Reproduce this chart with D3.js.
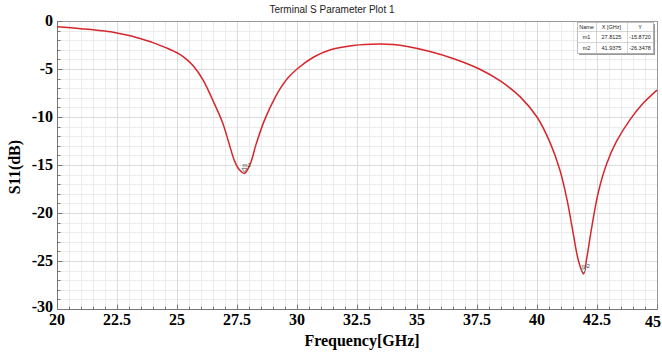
<!DOCTYPE html>
<html>
<head>
<meta charset="utf-8">
<script src="https://cdn.jsdelivr.net/npm/d3@7"></script>
<style>
  body { margin: 0; background: #fff; }
  svg { display: block; }
</style>
</head>
<body>
<div id="chart"></div>
<script>
// S11 curve
const freq = [20, 21, 22, 22.6, 23, 23.5, 24, 24.5, 25.1, 25.4, 25.7, 26.1, 26.5, 26.9, 27.15, 27.4, 27.6, 27.8125,
  28.05, 28.3, 28.65, 29.1, 29.3, 29.6, 30, 30.7, 31.4, 32.35, 33.4, 34.0, 34.6, 35.5, 36.5, 37.6, 38.5, 39.3,
  40, 40.55, 40.95, 41.25, 41.5, 41.72, 41.9375, 42.08, 42.28, 42.55, 42.9, 43.3, 43.9, 44.45, 45];
const s11 = [-0.6, -0.8, -1.05, -1.3, -1.5, -1.85, -2.25, -2.75, -3.45, -4.0, -4.75, -6.2, -8.3, -10.6, -12.6, -14.6, -15.5, -15.872,
  -14.9, -12.8, -10.3, -7.9, -7.05, -6.0, -5.0, -3.75, -3.0, -2.55, -2.4, -2.45, -2.65, -3.15, -3.9, -5.0, -6.3, -7.9,
  -10.0, -12.7, -15.5, -18.6, -22.0, -24.9, -26.3478, -24.6, -21.5, -17.9, -14.9, -12.6, -10.2, -8.5, -7.2];

const markers = [
  { name: "m1", x: 27.8125, y: -15.8720 },
  { name: "m2", x: 41.9375, y: -26.3478 }
];

const xTicks = [20, 22.5, 25, 27.5, 30, 32.5, 35, 37.5, 40, 42.5, 45];
const yTicks = [0, -5, -10, -15, -20, -25, -30];

const width = 662, height = 356;
const marginTop = 21, marginRight = 5, marginBottom = 47, marginLeft = 57;

const x = d3.scaleLinear().domain([20, 45]).range([marginLeft, width - marginRight]);
const y = d3.scaleLinear().domain([-30, 0]).range([height - marginBottom, marginTop]);

const svg = d3.select("#chart").append("svg")
  .attr("width", width)
  .attr("height", height)
  .attr("viewBox", [0, 0, width, height]);

// minor grid
svg.append("g")
  .attr("stroke", "#ececec")
  .attr("stroke-width", 1)
  .call(g => g.selectAll("line.v").data(d3.range(20, 45.01, 0.5)).join("line")
    .attr("x1", d => Math.round(x(d)) + 0.5).attr("x2", d => Math.round(x(d)) + 0.5)
    .attr("y1", y(0)).attr("y2", y(-30)))
  .call(g => g.selectAll("line.h").data(d3.range(-30, 0.01, 1)).join("line")
    .attr("y1", d => Math.round(y(d)) + 0.5).attr("y2", d => Math.round(y(d)) + 0.5)
    .attr("x1", x(20)).attr("x2", x(45)));

// major grid
svg.append("g")
  .attr("stroke", "#dcdcdc")
  .call(g => g.selectAll("line.v").data(xTicks).join("line")
    .attr("x1", d => Math.round(x(d)) + 0.5).attr("x2", d => Math.round(x(d)) + 0.5)
    .attr("y1", y(0)).attr("y2", y(-30)))
  .call(g => g.selectAll("line.h").data(yTicks).join("line")
    .attr("y1", d => Math.round(y(d)) + 0.5).attr("y2", d => Math.round(y(d)) + 0.5)
    .attr("x1", x(20)).attr("x2", x(45)));

// frame
svg.append("rect")
  .attr("x", x(20) + 0.5).attr("y", y(0) + 0.5)
  .attr("width", x(45) - x(20)).attr("height", y(-30) - y(0))
  .attr("fill", "none").attr("stroke", "#9a9a9a");

// inner ticks
const bottomY = Math.round(y(-30)) + 0.5;
svg.append("g").attr("stroke", "#777")
  .selectAll("line").data(d3.range(20, 45.01, 0.5)).join("line")
  .attr("x1", d => Math.round(x(d)) + 0.5).attr("x2", d => Math.round(x(d)) + 0.5)
  .attr("y1", bottomY).attr("y2", d => bottomY - (xTicks.includes(d) ? 5 : 3));
const leftX = Math.round(x(20)) + 0.5;
svg.append("g").attr("stroke", "#777")
  .selectAll("line").data(d3.range(-30, 0.01, 1)).join("line")
  .attr("y1", d => Math.round(y(d)) + 0.5).attr("y2", d => Math.round(y(d)) + 0.5)
  .attr("x1", leftX).attr("x2", d => leftX + (yTicks.includes(d) ? 5 : 3));
svg.append("line").attr("stroke", "#777")
  .attr("x1", leftX).attr("x2", leftX).attr("y1", y(0)).attr("y2", y(-30));
svg.append("line").attr("stroke", "#777")
  .attr("x1", x(20)).attr("x2", x(45)).attr("y1", bottomY).attr("y2", bottomY);

// tick labels
svg.append("g")
  .attr("font-family", "'Liberation Serif', 'Times New Roman', serif")
  .attr("font-weight", "bold").attr("font-size", 16)
  .selectAll("text").data(xTicks).join("text")
  .attr("x", d => x(d)).attr("y", d => d === 45 ? 327 : 325)
  .attr("text-anchor", d => d === 45 ? "end" : "middle")
  .attr("dx", d => d === 45 ? 4 : 0)
  .text(d => d);
svg.append("g")
  .attr("font-family", "'Liberation Serif', 'Times New Roman', serif")
  .attr("font-weight", "bold").attr("font-size", 16)
  .selectAll("text").data(yTicks).join("text")
  .attr("x", 53).attr("y", d => y(d) + (d === -30 ? 3 : 5))
  .attr("text-anchor", "end")
  .text(d => d);

// axis titles
svg.append("text")
  .attr("x", 362).attr("y", 346)
  .attr("text-anchor", "middle")
  .attr("font-family", "'Liberation Serif', 'Times New Roman', serif")
  .attr("font-weight", "bold").attr("font-size", 16)
  .text("Frequency[GHz]");
svg.append("text")
  .attr("transform", "translate(20,167) rotate(-90)")
  .attr("text-anchor", "middle")
  .attr("font-family", "'Liberation Serif', 'Times New Roman', serif")
  .attr("font-weight", "bold").attr("font-size", 16)
  .text("S11(dB)");

// title
svg.append("text")
  .attr("x", 332).attr("y", 13)
  .attr("text-anchor", "middle")
  .attr("font-family", "'Liberation Sans', Arial, sans-serif")
  .attr("font-size", 10).attr("fill", "#222")
  .text("Terminal S Parameter Plot 1");

// curve
const line = d3.line()
  .x((d, i) => x(freq[i]))
  .y(d => y(d))
  .curve(d3.curveCatmullRom.alpha(0.5));
svg.append("path")
  .datum(s11)
  .attr("fill", "none")
  .attr("stroke", "#d7262b")
  .attr("stroke-width", 1.5)
  .attr("d", line);

// markers
const mk = svg.append("g").selectAll("g").data(markers).join("g")
  .attr("transform", d => `translate(${x(d.x)},${y(d.y)})`);
mk.append("path")
  .attr("d", "M-2.5,-5 L2.5,-5 L0,-1 Z")
  .attr("fill", "#fff").attr("stroke", "#555").attr("stroke-width", 0.7);
mk.append("text")
  .attr("x", -2).attr("y", -6)
  .attr("font-family", "'Liberation Sans', Arial, sans-serif")
  .attr("font-size", 6).attr("fill", "#444")
  .text(d => d.name);

// marker table
const cols = [577, 596, 627, 653];
const rowsY = [22, 31, 42, 53];
const tbl = svg.append("g").attr("font-family", "'Liberation Sans', Arial, sans-serif")
  .attr("font-size", 5.5).attr("fill", "#222");
tbl.append("rect")
  .attr("x", cols[0] + 2).attr("y", rowsY[0] + 2)
  .attr("width", cols[3] - cols[0]).attr("height", rowsY[3] - rowsY[0])
  .attr("fill", "#999");
tbl.append("rect")
  .attr("x", cols[0] + 0.5).attr("y", rowsY[0] + 0.5)
  .attr("width", cols[3] - cols[0]).attr("height", rowsY[3] - rowsY[0])
  .attr("fill", "#fff").attr("stroke", "#999").attr("stroke-width", 0.6);
tbl.selectAll("line.c").data(cols.slice(1, 3)).join("line")
  .attr("x1", d => d + 0.5).attr("x2", d => d + 0.5)
  .attr("y1", rowsY[0]).attr("y2", rowsY[3]).attr("stroke", "#bbb").attr("stroke-width", 0.6);
tbl.selectAll("line.r").data(rowsY.slice(1, 3)).join("line")
  .attr("y1", d => d + 0.5).attr("y2", d => d + 0.5)
  .attr("x1", cols[0]).attr("x2", cols[3]).attr("stroke", "#bbb").attr("stroke-width", 0.6);
const cells = [["Name", "X [GHz]", "Y"]].concat(markers.map(m => [m.name, m.x.toFixed(4), m.y.toFixed(4)]));
cells.forEach((row, r) => {
  row.forEach((c, k) => {
    tbl.append("text")
      .attr("x", (cols[k] + cols[k + 1]) / 2)
      .attr("y", (rowsY[r] + rowsY[r + 1]) / 2 + 2)
      .attr("text-anchor", "middle")
      .text(c);
  });
});
</script>
</body>
</html>
